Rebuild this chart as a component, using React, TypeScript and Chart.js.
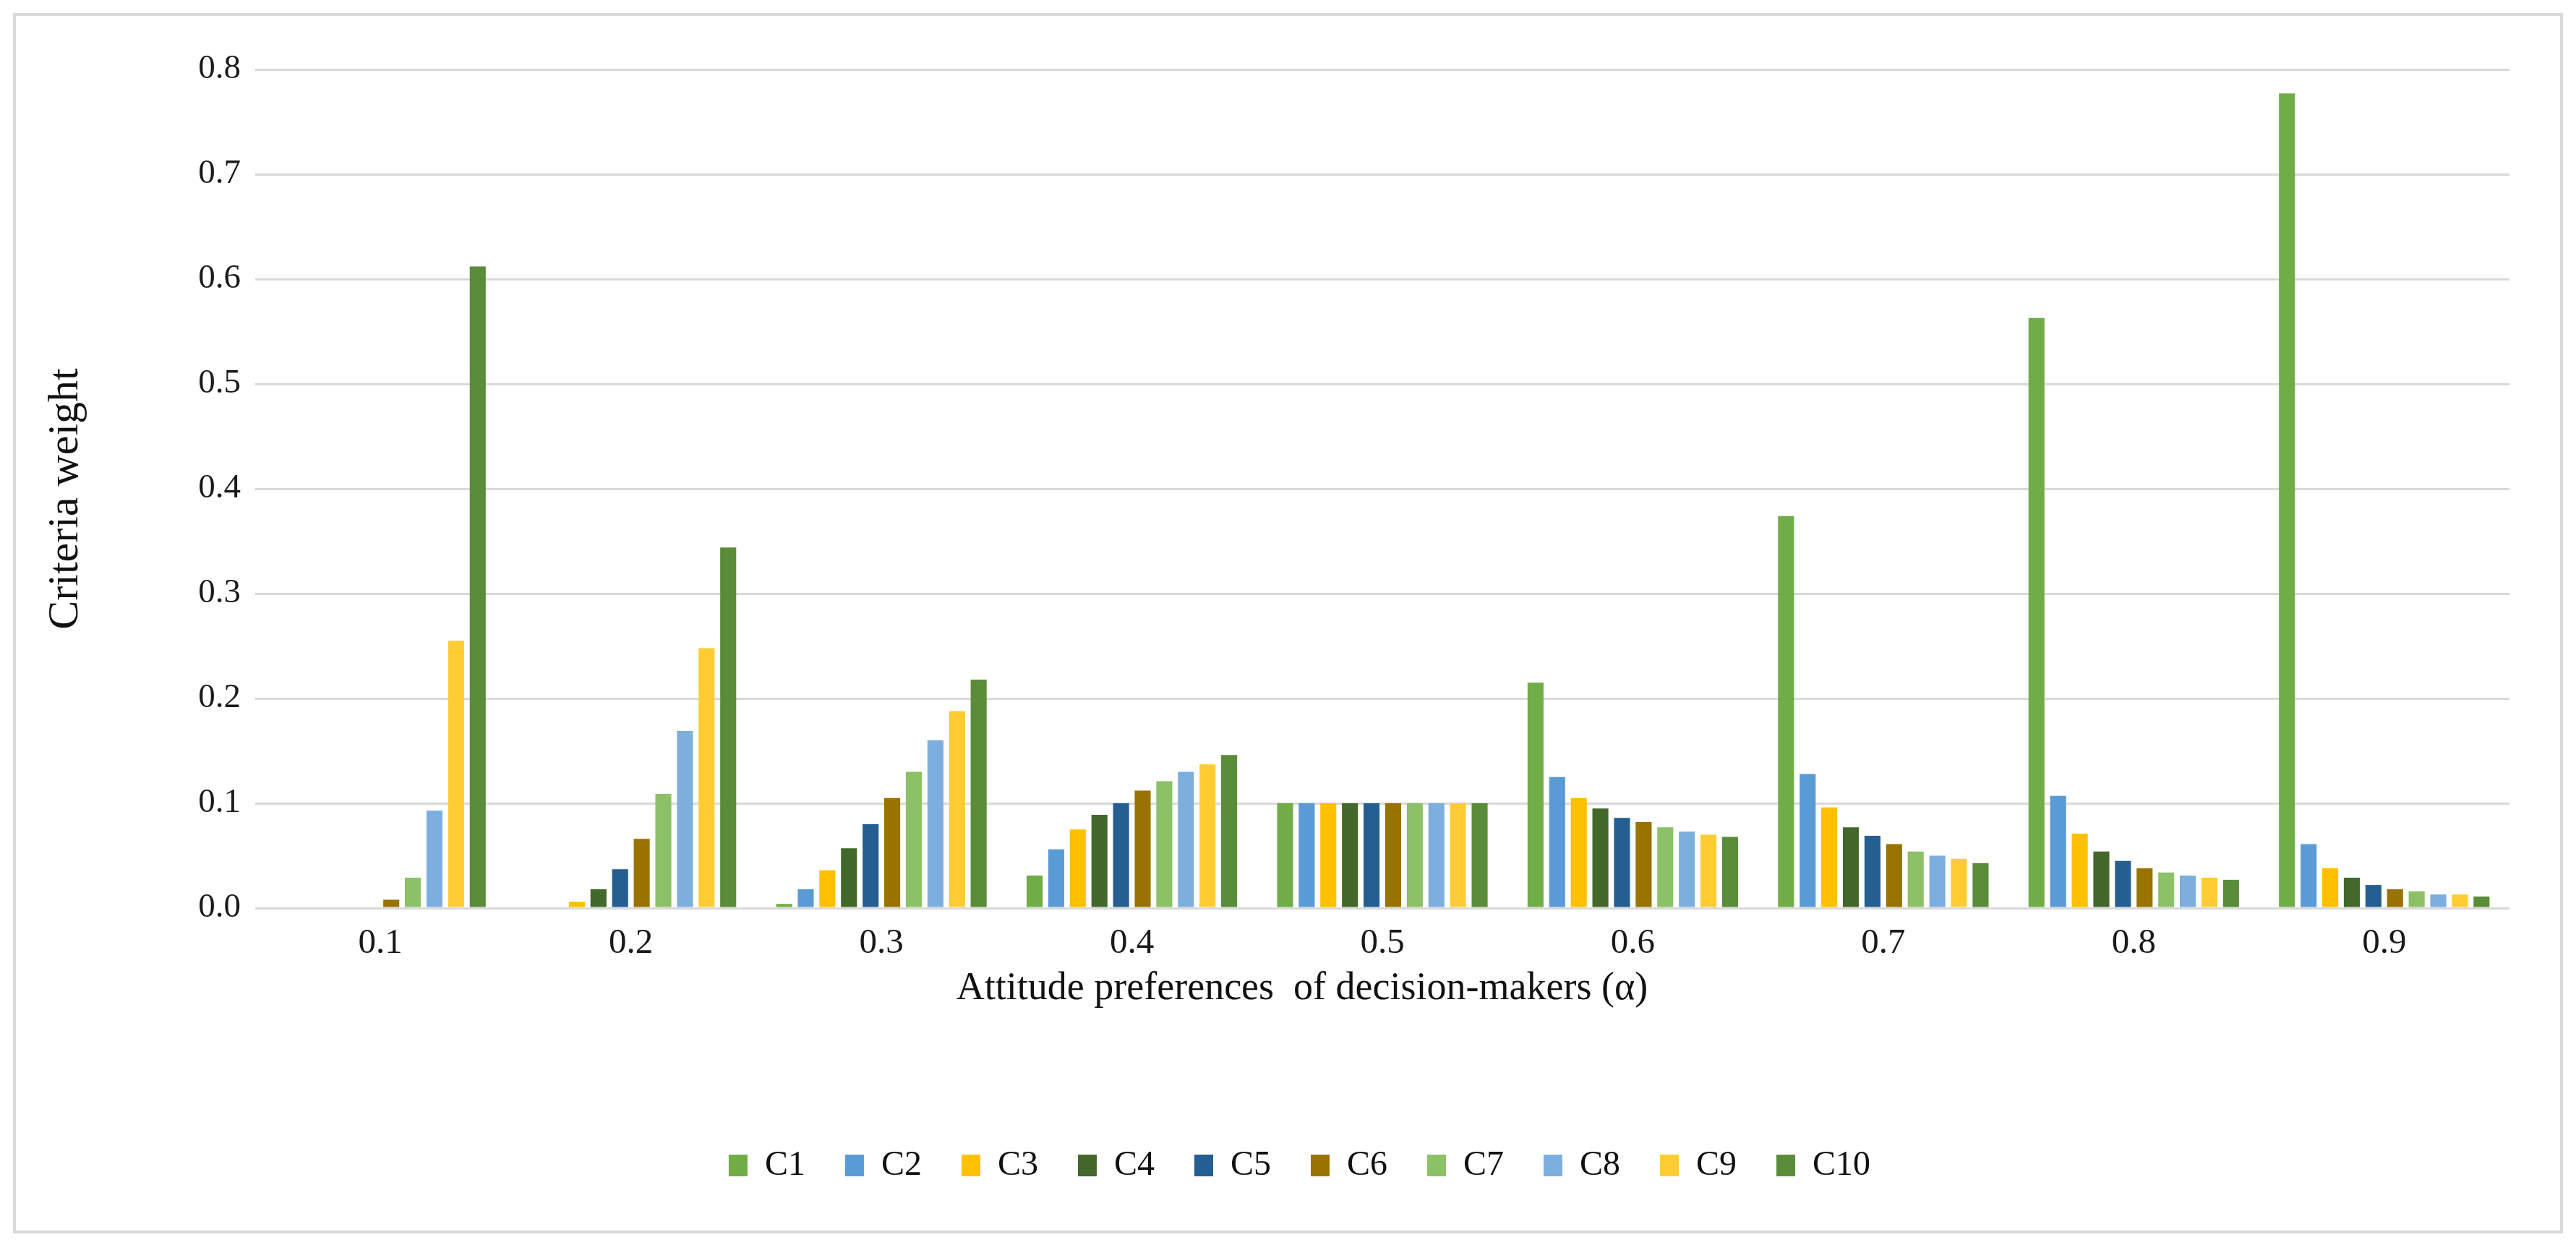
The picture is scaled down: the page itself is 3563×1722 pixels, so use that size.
import { useEffect, useRef } from "react";
import { Chart, registerables } from "chart.js";

Chart.register(...registerables);

const categories = ["0.1", "0.2", "0.3", "0.4", "0.5", "0.6", "0.7", "0.8", "0.9"];
const criteria = ["C1", "C2", "C3", "C4", "C5", "C6", "C7", "C8", "C9", "C10"];
const yTicks = [0, 0.1, 0.2, 0.3, 0.4, 0.5, 0.6, 0.7, 0.8];

const C1 = [0, 0, 0.004, 0.031, 0.1, 0.215, 0.374, 0.563, 0.777];
const C2 = [0, 0, 0.018, 0.056, 0.1, 0.125, 0.128, 0.107, 0.061];
const C3 = [0, 0.006, 0.036, 0.075, 0.1, 0.105, 0.096, 0.071, 0.038];
const C4 = [0, 0.018, 0.057, 0.089, 0.1, 0.095, 0.077, 0.054, 0.029];
const C5 = [0, 0.037, 0.08, 0.1, 0.1, 0.086, 0.069, 0.045, 0.022];
const C6 = [0.008, 0.066, 0.105, 0.112, 0.1, 0.082, 0.061, 0.038, 0.018];
const C7 = [0.029, 0.109, 0.13, 0.121, 0.1, 0.077, 0.054, 0.034, 0.016];
const C8 = [0.093, 0.169, 0.16, 0.13, 0.1, 0.073, 0.05, 0.031, 0.013];
const C9 = [0.255, 0.248, 0.188, 0.137, 0.1, 0.07, 0.047, 0.029, 0.013];
const C10 = [0.612, 0.344, 0.218, 0.146, 0.1, 0.068, 0.043, 0.027, 0.011];

const seriesValues = [C1, C2, C3, C4, C5, C6, C7, C8, C9, C10];
const seriesColors = [
  "#70AD47",
  "#5B9BD5",
  "#FFC000",
  "#43682B",
  "#255E91",
  "#997300",
  "#8CC168",
  "#7CAFDD",
  "#FFCD33",
  "#5B8C39",
];

const xTitle = "Attitude preferences  of decision-makers (\u03b1)";
const yTitle = "Criteria weight";

const FONT = '"Liberation Serif", "DejaVu Serif", "Times New Roman", serif';

const W = 3563;
const H = 1722;

const framePlugin = {
  id: "frameAndTitles",
  afterLayout(chart: any) {
    const lg = chart.legend;
    if (lg) {
      lg.left += 62;
      lg.right += 62;
    }
  },
  beforeDraw(chart: any) {
    const { ctx } = chart;
    ctx.save();
    ctx.fillStyle = "#ffffff";
    ctx.fillRect(0, 0, chart.width, chart.height);
    ctx.strokeStyle = "#d9d9d9";
    ctx.lineWidth = 4;
    ctx.strokeRect(20, 20, chart.width - 40, chart.height - 38);
    ctx.restore();
  },
  afterDraw(chart: any) {
    const { ctx, chartArea } = chart;
    ctx.save();
    ctx.fillStyle = "#111111";
    ctx.font = `54px ${FONT}`;
    ctx.textAlign = "center";
    ctx.textBaseline = "middle";
    const xc = chartArea.left + (chartArea.right - chartArea.left) * 0.4644;
    ctx.fillText(xTitle, xc, chartArea.bottom + 112);
    ctx.font = `60px ${FONT}`;
    ctx.translate(91, (chartArea.top + chartArea.bottom) / 2 + 14);
    ctx.rotate(-Math.PI / 2);
    ctx.fillText(yTitle, 0, 0);
    ctx.restore();
  },
};

export default function App() {
  const ref = useRef<HTMLCanvasElement | null>(null);

  useEffect(() => {
    document.body.style.margin = "0";
    if (!ref.current) return;
    const chart = new Chart(ref.current, {
      type: "bar",
      data: {
        labels: categories,
        datasets: criteria.map((name, i) => ({
          label: name,
          data: seriesValues[i],
          backgroundColor: seriesColors[i],
          borderWidth: 0,
          categoryPercentage: 0.863,
          barPercentage: 0.74,
        })),
      },
      options: {
        responsive: false,
        animation: false,
        devicePixelRatio: 1,
        layout: { padding: { left: 0, right: 92, top: 96, bottom: 76 } },
        plugins: {
          legend: {
            position: "bottom",
            labels: {
              boxWidth: 26,
              boxHeight: 30,
              padding: 55,
              color: "#111111",
              font: { family: FONT, size: 48 },
            },
          },
          tooltip: { enabled: false },
          title: { display: false },
        },
        scales: {
          x: {
            type: "category",
            grid: { display: false, drawTicks: false },
            border: { display: false },
            ticks: {
              color: "#1a1a1a",
              padding: 20,
              font: { family: FONT, size: 49 },
            },
            afterFit(scale: any) {
              scale.height = 277;
            },
          },
          y: {
            min: 0,
            max: 0.8,
            afterBuildTicks(scale: any) {
              scale.ticks = yTicks.map((v) => ({ value: v }));
            },
            grid: { color: "#d9d9d9", lineWidth: 3, drawTicks: false },
            border: { display: false },
            ticks: {
              color: "#1a1a1a",
              padding: 20,
              font: { family: FONT, size: 47 },
              callback: (v: any) => Number(v).toFixed(1),
            },
            afterFit(scale: any) {
              scale.width = 353;
            },
          },
        },
      },
      plugins: [framePlugin],
    });
    return () => chart.destroy();
  }, []);

  return (
    <div style={{ width: W, height: H }}>
      <canvas ref={ref} width={W} height={H} style={{ display: "block", width: W, height: H }} />
    </div>
  );
}
